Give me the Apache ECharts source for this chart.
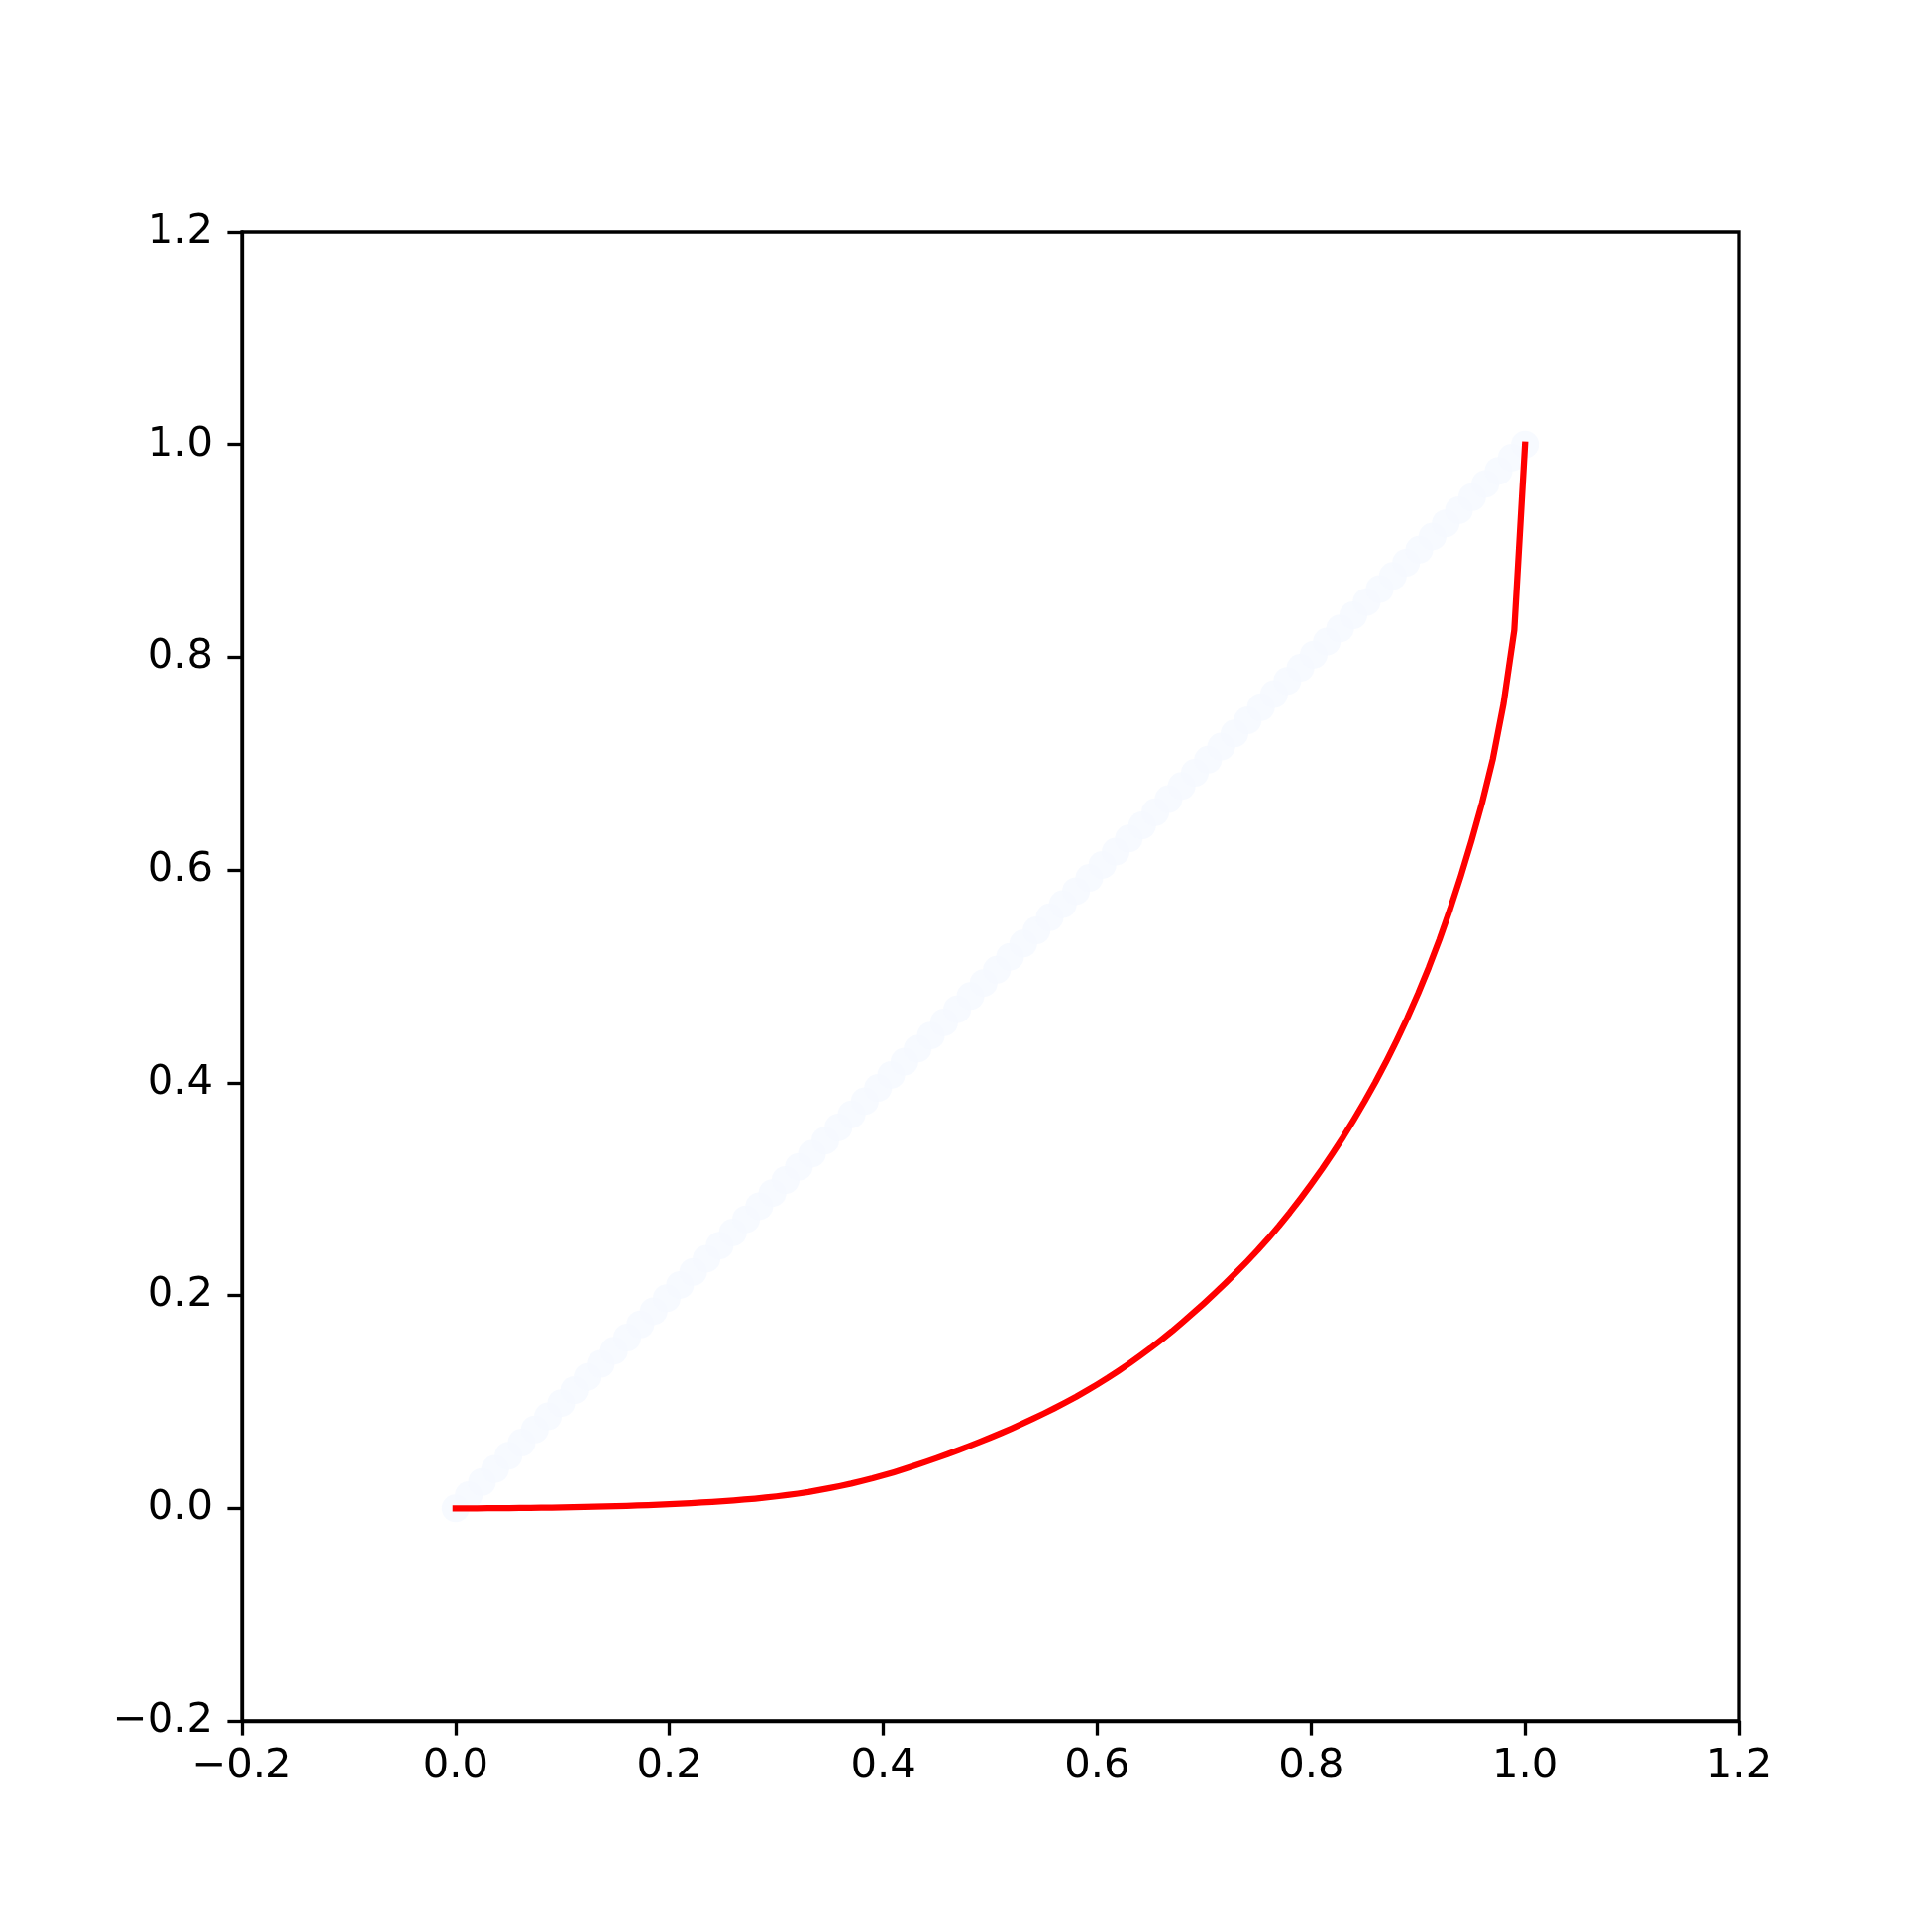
<!DOCTYPE html>
<html>
<head>
<meta charset="utf-8">
<script src="https://cdn.jsdelivr.net/npm/echarts@6/dist/echarts.min.js"></script>
<style>
  html, body { margin: 0; padding: 0; background: #ffffff; }
  #chart { width: 1950px; height: 1950px; }
</style>
</head>
<body>
<div id="chart"></div>
<script>
// Cumulative share of population (x) for the Lorenz curve
const popShare = [0,0.01,0.02,0.03,0.04,0.05,0.06,0.07,0.08,0.09,
  0.10,0.11,0.12,0.13,0.14,0.15,0.16,0.17,0.18,0.19,
  0.20,0.21,0.22,0.23,0.24,0.25,0.26,0.27,0.28,0.29,
  0.30,0.31,0.32,0.33,0.34,0.35,0.36,0.37,0.38,0.39,
  0.40,0.41,0.42,0.43,0.44,0.45,0.46,0.47,0.48,0.49,
  0.50,0.51,0.52,0.53,0.54,0.55,0.56,0.57,0.58,0.59,
  0.60,0.61,0.62,0.63,0.64,0.65,0.66,0.67,0.68,0.69,
  0.70,0.71,0.72,0.73,0.74,0.75,0.76,0.77,0.78,0.79,
  0.80,0.81,0.82,0.83,0.84,0.85,0.86,0.87,0.88,0.89,
  0.90,0.91,0.92,0.93,0.94,0.95,0.96,0.97,0.98,0.99,1.00];
// Cumulative share of value (y)
const cumShare = [0.0000,0.0000,0.0000,0.0001,0.0001,0.0002,0.0003,0.0004,0.0005,0.0007,
  0.0008,0.0010,0.0012,0.0015,0.0017,0.0020,0.0023,0.0027,0.0030,0.0034,
  0.0039,0.0043,0.0049,0.0054,0.0060,0.0067,0.0074,0.0082,0.0091,0.0101,
  0.0112,0.0124,0.0138,0.0153,0.0171,0.0190,0.0210,0.0232,0.0257,0.0282,
  0.0310,0.0339,0.0370,0.0403,0.0437,0.0472,0.0508,0.0545,0.0584,0.0624,
  0.0664,0.0706,0.0750,0.0795,0.0842,0.0890,0.0940,0.0992,0.1046,0.1104,
  0.1164,0.1226,0.1292,0.1360,0.1432,0.1506,0.1584,0.1665,0.1750,0.1838,
  0.1928,0.2022,0.2118,0.2217,0.2319,0.2425,0.2537,0.2655,0.2779,0.2909,
  0.3045,0.3186,0.3334,0.3489,0.3653,0.3824,0.4004,0.4194,0.4396,0.4609,
  0.4837,0.5082,0.5346,0.5632,0.5942,0.6275,0.6635,0.7045,0.7565,0.8255,1.0000];
// Line of equality drawn as markers
const equality = [0,0.0123,0.0247,0.0370,0.0494,0.0617,0.0741,0.0864,0.0988,0.1111,
  0.1235,0.1358,0.1481,0.1605,0.1728,0.1852,0.1975,0.2099,0.2222,0.2346,
  0.2469,0.2593,0.2716,0.2840,0.2963,0.3086,0.3210,0.3333,0.3457,0.3580,
  0.3704,0.3827,0.3951,0.4074,0.4198,0.4321,0.4444,0.4568,0.4691,0.4815,
  0.4938,0.5062,0.5185,0.5309,0.5432,0.5556,0.5679,0.5802,0.5926,0.6049,
  0.6173,0.6296,0.6420,0.6543,0.6667,0.6790,0.6914,0.7037,0.7160,0.7284,
  0.7407,0.7531,0.7654,0.7778,0.7901,0.8025,0.8148,0.8272,0.8395,0.8519,
  0.8642,0.8765,0.8889,0.9012,0.9136,0.9259,0.9383,0.9506,0.9630,0.9753,
  0.9877,1.0000];
const axisMin = -0.2, axisMax = 1.2, axisStep = 0.2;

const chart = echarts.init(document.getElementById('chart'), null, { renderer: 'canvas' });
const fmt = v => (Math.round(v * 10) / 10).toFixed(1).replace('-', '\u2212');
const axisCommon = {
  type: 'value', min: axisMin, max: axisMax, interval: axisStep,
  splitLine: { show: false },
  axisLine: { show: true, onZero: false, lineStyle: { color: '#000', width: 3.3 } },
  axisTick: { show: true, inside: false, length: 14.6, lineStyle: { color: '#000', width: 3.3 } },
  axisLabel: { show: true, showMinLabel: true, showMaxLabel: true, color: '#000',
    fontFamily: 'DejaVu Sans', fontSize: 41.7, formatter: fmt }
};
chart.setOption({
  animation: false,
  backgroundColor: '#ffffff',
  grid: { left: 244, right: 195, top: 234, bottom: 213, show: true,
    borderColor: '#000', borderWidth: 3.3, backgroundColor: 'transparent' },
  xAxis: Object.assign({}, axisCommon, { axisLabel: Object.assign({}, axisCommon.axisLabel, { margin: 25 }) }),
  yAxis: Object.assign({}, axisCommon, { axisLabel: Object.assign({}, axisCommon.axisLabel, { margin: 29 }) }),
  series: [
    { type: 'scatter', data: equality.map(v => [v, v]), symbol: 'circle', symbolSize: 28,
      itemStyle: { color: '#f5f9ff' }, silent: true, z: 1 },
    { type: 'line', data: popShare.map((x, i) => [x, cumShare[i]]), showSymbol: false, smooth: false,
      lineStyle: { color: '#ff0000', width: 6.25, cap: 'square', join: 'round' }, silent: true, z: 2 }
  ]
});
</script>
</body>
</html>
